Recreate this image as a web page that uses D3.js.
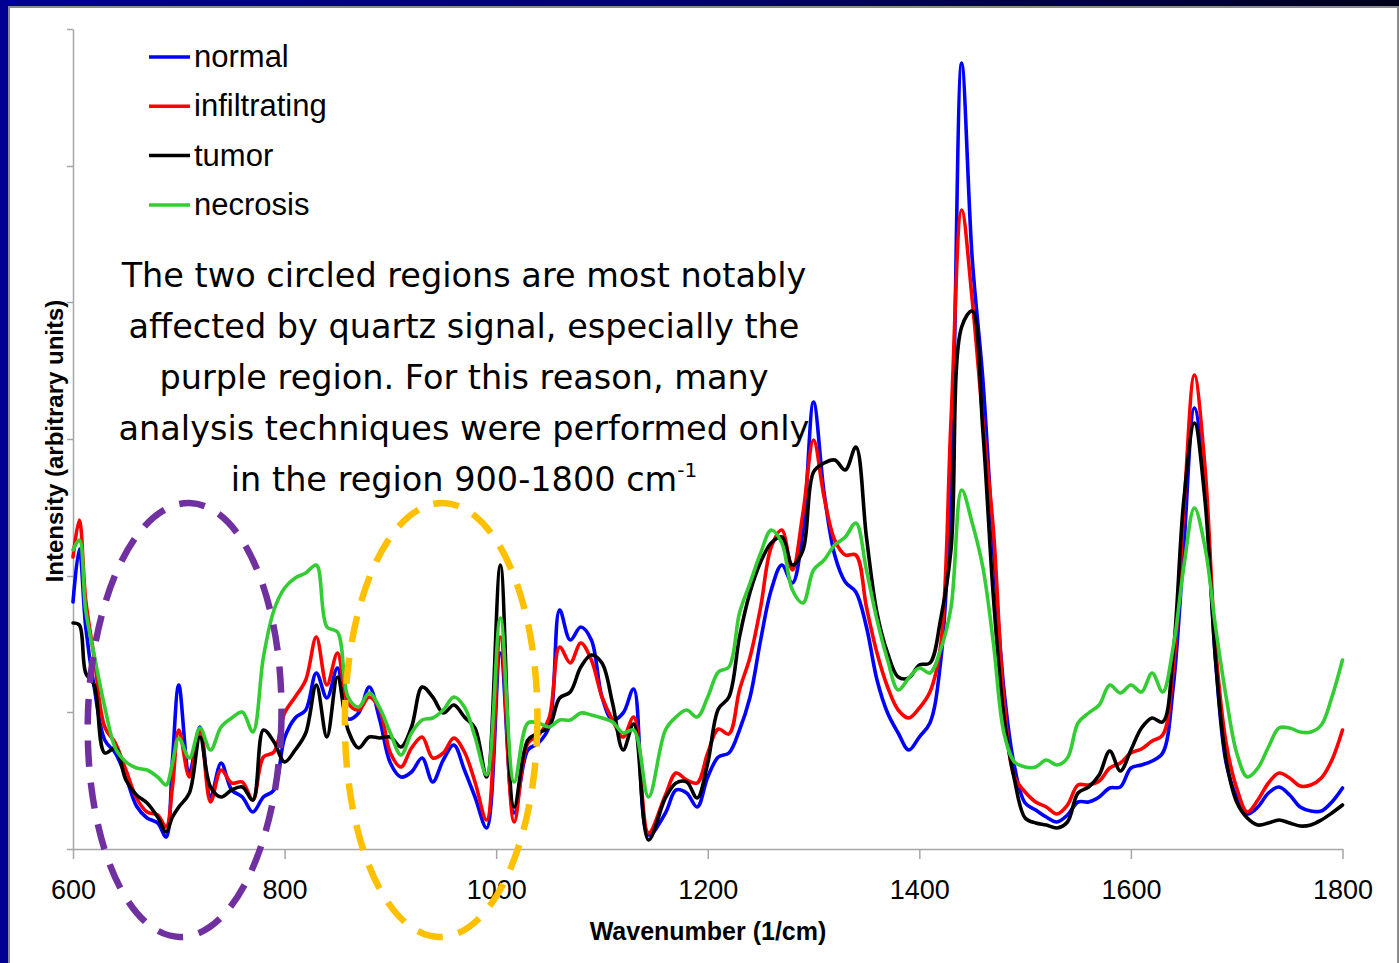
<html>
<head>
<style>
    body {
        margin: 0;
        background: #000090;
        overflow: hidden;
    }
    .axis path, .axis line {
        stroke: #a6a6a6;
        stroke-width: 1.5px;
    }
    .axis text {
        fill: #000;
        font-family: "Liberation Sans", Arial, sans-serif;
        font-size: 27px;
    }
    .spectrum {
        fill: none;
        stroke-width: 3.6px;
        stroke-linejoin: round;
        stroke-linecap: round;
    }
    .legendText {
        font-family: "Liberation Sans", Arial, sans-serif;
        font-size: 31px;
        fill: #000;
    }
    .note {
        font-family: "DejaVu Sans", sans-serif;
        font-size: 33.5px;
        text-anchor: middle;
        fill: #000;
    }
    .axisTitle {
        font-family: "Liberation Sans", Arial, sans-serif;
        font-weight: bold;
        fill: #000;
        text-anchor: middle;
    }
</style>
</head>
<body>
<svg id="slide" width="1399" height="963">
    <defs>
        <linearGradient id="navy" x1="0" x2="1" y1="0" y2="0">
            <stop offset="0%" stop-color="#000092"></stop>
            <stop offset="45%" stop-color="#000078"></stop>
            <stop offset="75%" stop-color="#000048"></stop>
            <stop offset="100%" stop-color="#00001a"></stop>
        </linearGradient>
    </defs>
    <rect width="1399" height="963" fill="url(#navy)"></rect>
    <rect x="9" y="7" width="1389" height="960" fill="#fff" stroke="#8c8c8c" stroke-width="2"></rect>
    <g id="chartBody"></g>
</svg>
<script src="https://d3js.org/d3.v7.min.js"></script>
<script>
    // wavenumber grid (1/cm)
    const wavenumbers = [600, 606, 612, 620, 630, 640, 650, 660, 670, 680, 688, 694,
        700, 710, 720, 730, 740, 750, 760, 770, 780, 790,
        800, 810, 820, 830, 840, 850, 860, 870, 880, 890,
        900, 910, 920, 930, 940, 950, 960, 970, 980, 991,
        1004, 1017, 1030, 1040, 1050, 1060, 1070, 1080, 1090,
        1100, 1110, 1120, 1130, 1144, 1160, 1170, 1180, 1190,
        1200, 1210, 1220, 1230, 1240, 1250, 1260, 1270, 1280, 1290,
        1300, 1310, 1320, 1330, 1340, 1350, 1360, 1370, 1380, 1390,
        1400, 1410, 1420, 1430, 1440, 1450, 1460, 1470, 1480, 1490,
        1500, 1510, 1520, 1530, 1540, 1550, 1560, 1570, 1580, 1590,
        1600, 1610, 1620, 1630, 1640, 1650, 1660, 1670, 1680, 1690,
        1700, 1710, 1720, 1730, 1740, 1750, 1760, 1770, 1780, 1790,
        1800]

    // intensities (arbitrary units)
    const normal = [247, 300, 222, 162, 109, 96, 72, 43, 31, 26, 12, 89,
        164, 76, 122, 52, 86, 59, 52, 37, 52, 59,
        111, 131, 139, 176, 151, 181, 130, 136, 162, 129,
        86, 72, 77, 91, 67, 89, 104, 79, 52, 21,
        196, 36, 99, 106, 122, 239, 209, 222, 209,
        152, 129, 136, 160, 14, 36, 59, 56, 42,
        72, 92, 96, 119, 152, 209, 259, 284, 266, 319,
        447, 356, 294, 267, 257, 222, 169, 136, 116, 99,
        112, 126, 186, 360, 786, 590, 470, 302, 159, 82,
        46, 39, 32, 27, 34, 47, 47, 52, 61, 62,
        81, 84, 88, 96, 162, 302, 441, 362, 189, 86,
        52, 35, 42, 56, 62, 54, 42, 38, 38, 47,
        61]

    const infiltrating = [292, 329, 249, 192, 122, 106, 79, 51, 37, 34, 22, 62,
        119, 72, 119, 47, 79, 66, 67, 49, 92, 97,
        136, 152, 169, 212, 164, 196, 146, 139, 152, 139,
        96, 82, 101, 112, 91, 96, 111, 97, 67, 29,
        212, 27, 106, 114, 131, 202, 186, 206, 189,
        152, 129, 112, 132, 16, 54, 76, 69, 66,
        96, 120, 115, 159, 192, 242, 302, 319, 279, 336,
        409, 352, 309, 294, 294, 242, 196, 162, 139, 131,
        141, 157, 202, 430, 639, 549, 429, 319, 149, 72,
        57, 47, 42, 35, 44, 64, 64, 68, 81, 86,
        96, 100, 108, 114, 179, 339, 474, 382, 202, 106,
        61, 37, 49, 66, 76, 71, 63, 64, 71, 89,
        119]

    const tumor = [226, 224, 176, 164, 96, 101, 69, 54, 46, 32, 17, 32,
        42, 56, 112, 62, 52, 59, 62, 49, 119, 107,
        87, 99, 116, 164, 112, 172, 119, 101, 112, 111,
        112, 102, 122, 162, 152, 136, 144, 132, 121, 72,
        284, 42, 109, 116, 122, 151, 157, 182, 194,
        186, 146, 99, 125, 9, 51, 66, 67, 51,
        86, 140, 152, 212, 257, 287, 306, 312, 284, 299,
        377, 386, 389, 379, 402, 312, 236, 196, 172, 171,
        184, 186, 229, 300, 522, 538, 419, 252, 132, 69,
        31, 26, 24, 21, 27, 56, 62, 74, 98, 78,
        99, 121, 131, 127, 196, 349, 426, 349, 189, 89,
        47, 31, 24, 26, 29, 26, 23, 24, 29, 36,
        44]

    const necrosis = [299, 309, 239, 194, 142, 101, 87, 81, 79, 72, 64, 86,
        111, 91, 121, 99, 122, 131, 137, 117, 192, 239,
        261, 271, 276, 284, 222, 217, 152, 142, 156, 141,
        116, 94, 116, 129, 131, 139, 152, 142, 112, 74,
        231, 67, 126, 126, 122, 129, 129, 136, 134,
        131, 127, 116, 119, 52, 119, 132, 139, 132,
        152, 177, 182, 236, 266, 296, 319, 306, 259, 246,
        279, 289, 304, 312, 326, 279, 229, 189, 159, 171,
        181, 176, 199, 242, 359, 326, 282, 206, 116, 87,
        82, 82, 89, 84, 91, 126, 136, 144, 164, 156,
        164, 157, 176, 157, 202, 282, 341, 302, 222, 152,
        96, 72, 81, 102, 121, 121, 117, 117, 124, 152,
        189]

    const seriesNames = ["normal", "infiltrating", "tumor", "necrosis"]
    const seriesColors = ["#0000ff", "#ff0000", "#000000", "#33cc33"]
    const xTicks = [600, 800, 1000, 1200, 1400, 1600, 1800]
    const yTicks = [0, 137, 273, 410, 547, 683, 820]

    // wavenumber ranges that are circled (quartz signal)
    const circledRanges = [[614, 797], [857, 1039]]
    const circleColors = ["#7030a0", "#ffc000"]

    const noteLines = [
        "The two circled regions are most notably",
        "affected by quartz signal, especially the",
        "purple region. For this reason, many",
        "analysis techniques were performed only",
        "in the region 900-1800 cm"
    ]

    let body = d3.select("#chartBody")

    let xScale = d3.scaleLinear().domain([600, 1800]).range([73, 1342.5])
    let yScale = d3.scaleLinear().domain([0, 820]).range([849, 29])

    // axes
    body.append("g")
        .attr("class", "axis")
        .attr("transform", "translate(0,849)")
        .call(d3.axisBottom(xScale).tickValues(xTicks).tickFormat(d3.format("d"))
            .tickSize(10).tickSizeOuter(0).tickPadding(21))
    body.append("g")
        .attr("class", "axis")
        .attr("transform", "translate(73,0)")
        .call(d3.axisLeft(yScale).tickValues(yTicks).tickSize(6).tickSizeOuter(0).tickFormat(""))

    // spectra
    let valueline = d3.line()
        .x((d, i) => xScale(wavenumbers[i]))
        .y(d => yScale(d))
        .curve(d3.curveCatmullRom.alpha(0.5))

    let allSeries = [normal, infiltrating, tumor, necrosis]
    body.selectAll(".spectrum")
        .data(allSeries)
        .join("path")
        .attr("class", "spectrum")
        .attr("stroke", (d, i) => seriesColors[i])
        .attr("d", valueline)

    // dashed ellipses round the quartz regions
    let cyVal = 129, halfH = 217
    body.selectAll(".quartz")
        .data(circledRanges)
        .join("ellipse")
        .attr("class", "quartz")
        .attr("cx", d => xScale((d[0] + d[1]) / 2))
        .attr("cy", yScale(cyVal))
        .attr("rx", d => (xScale(d[1]) - xScale(d[0])) / 2)
        .attr("ry", halfH)
        .attr("transform", (d, i) => "rotate(" + (i == 0 ? 1.3 : 0.4) + "," + xScale((d[0] + d[1]) / 2) + "," + yScale(cyVal) + ")")
        .attr("fill", "none")
        .attr("stroke", (d, i) => circleColors[i])
        .attr("stroke-width", 6.5)
        .attr("stroke-dasharray", "26 16")

    // legend
    let legend = body.selectAll(".legendItem")
        .data(seriesNames)
        .join("g")
        .attr("class", "legendItem")
        .attr("transform", (d, i) => "translate(149," + (57 + i * 49.3) + ")")
    legend.append("line")
        .attr("x1", 0)
        .attr("x2", 41)
        .attr("stroke", (d, i) => seriesColors[i])
        .attr("stroke-width", 3.5)
    legend.append("text")
        .attr("class", "legendText")
        .attr("x", 45)
        .attr("y", 10)
        .text(d => d)

    // the note over the chart
    let note = body.selectAll(".note")
        .data(noteLines)
        .join("text")
        .attr("class", "note")
        .attr("x", 464)
        .attr("y", (d, i) => 287 + i * 51)
        .text(d => d)
    note.filter((d, i) => i == noteLines.length - 1)
        .append("tspan")
        .attr("dy", -14)
        .attr("font-size", "20px")
        .text("-1")

    // axis titles
    body.append("text")
        .attr("class", "axisTitle")
        .attr("x", 708)
        .attr("y", 940)
        .style("font-size", "25px")
        .text("Wavenumber (1/cm)")
    body.append("text")
        .attr("class", "axisTitle")
        .attr("transform", "translate(63,441) rotate(-90)")
        .style("font-size", "24px")
        .text("Intensity (arbitrary units)")
</script>
</body>
</html>
